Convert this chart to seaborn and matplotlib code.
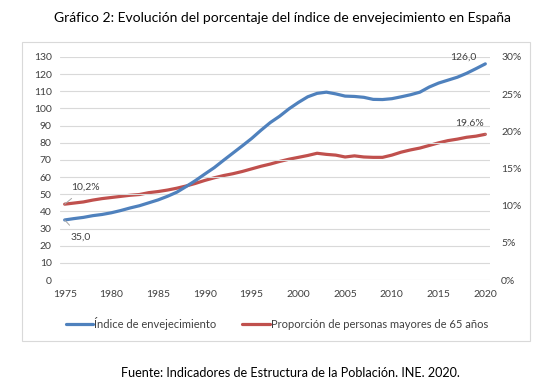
import numpy as np
import pandas as pd
import matplotlib
matplotlib.use("Agg")
import matplotlib.pyplot as plt
from matplotlib.patches import Rectangle
from matplotlib.ticker import FuncFormatter
import seaborn as sns

# --- data ---
years = list(range(1975, 2021))

indice_envejecimiento = [
    35.0, 35.8, 36.5, 37.5, 38.2, 39.2, 40.5, 42.0, 43.3, 45.0,
    46.7, 48.8, 51.2, 54.5, 58.0, 61.8, 65.5, 69.8, 74.0, 78.2,
    82.5, 87.3, 91.8, 95.5, 99.8, 103.5, 106.8, 108.8, 109.5, 108.5,
    107.2, 107.0, 106.5, 105.3, 105.2, 105.7, 106.8, 108.0, 109.5, 112.5,
    114.8, 116.5, 118.2, 120.5, 123.2, 126.0,
]

proporcion_65 = [
    10.2, 10.35, 10.5, 10.75, 10.95, 11.1, 11.25, 11.4, 11.5, 11.75,
    11.9, 12.1, 12.35, 12.65, 13.0, 13.4, 13.75, 14.05, 14.3, 14.6,
    14.95, 15.3, 15.6, 15.95, 16.25, 16.5, 16.75, 17.05, 16.9, 16.8,
    16.55, 16.7, 16.55, 16.5, 16.5, 16.8, 17.2, 17.5, 17.75, 18.1,
    18.45, 18.75, 18.95, 19.2, 19.35, 19.6,
]

left_ticks = list(range(0, 131, 10))
right_ticks = [0, 5, 10, 15, 20, 25, 30]
x_ticks = list(range(1975, 2021, 5))

title = "Gráfico 2: Evolución del porcentaje del índice de envejecimiento en España"
source = "Fuente: Indicadores de Estructura de la Población. INE. 2020."
label_blue = "Índice de envejecimiento"
label_red = "Proporción de personas mayores de 65 años"

BLUE = "#4F81BD"
RED = "#C0504D"
GRID = "#D9D9D9"
TEXT = "#404040"

df = pd.DataFrame({
    "year": years,
    "indice": indice_envejecimiento,
    "prop": proporcion_65,
})

sns.set_theme(style="white")
plt.rcParams["font.family"] = ["Lato", "DejaVu Sans"]

fig = plt.figure(figsize=(5.54, 3.83), dpi=100)
ax = fig.add_axes([60 / 554, 1 - 280 / 383, 430 / 554, 223 / 383])
ax2 = ax.twinx()

# chart frame
fig.patches.append(Rectangle((22 / 554, 1 - 341 / 383), 508 / 554, 299 / 383,
                             transform=fig.transFigure, fill=False,
                             edgecolor=GRID, linewidth=0.8))

sns.lineplot(data=df, x="year", y="indice", ax=ax, color=BLUE, linewidth=2.3,
             label=label_blue, legend=False)
sns.lineplot(data=df, x="year", y="prop", ax=ax2, color=RED, linewidth=2.3,
             label=label_red, legend=False)

ax.set_xlim(1974.5, 2020.5)
ax.set_ylim(0, 130)
ax2.set_ylim(0, 30)
ax.set_yticks(left_ticks)
ax2.set_yticks(right_ticks)
ax.set_xticks(x_ticks)
ax2.yaxis.set_major_formatter(FuncFormatter(lambda v, p: f"{int(v)}%"))

ax.grid(axis="y", color=GRID, linewidth=0.8)
ax.set_axisbelow(True)
ax2.grid(False)
for a in (ax, ax2):
    for s in a.spines.values():
        s.set_visible(False)
    a.set_xlabel("")
    a.set_ylabel("")
    a.tick_params(length=0, labelsize=7.5, labelcolor=TEXT, pad=6)
ax.tick_params(axis="x", pad=7)
ax2.tick_params(axis="y", pad=8)
ax.set_zorder(ax2.get_zorder() + 1)
ax.patch.set_visible(False)

# data labels with leader lines
i0, i1 = 0, len(years) - 1
ax.annotate(f"{indice_envejecimiento[i0]:.1f}".replace(".", ","),
            xy=(years[i0], indice_envejecimiento[i0]), xytext=(years[i0] + 1.7, 25.0),
            fontsize=7.5, color=TEXT, ha="center", va="center",
            arrowprops=dict(arrowstyle="-", color="#A6A6A6", lw=0.7, shrinkB=0, shrinkA=4))
ax.annotate(f"{indice_envejecimiento[i1]:.1f}".replace(".", ","),
            xy=(years[i1], indice_envejecimiento[i1]), xytext=(years[i1] - 2.4, 130),
            fontsize=7.5, color=TEXT, ha="center", va="center")
ax2.annotate(f"{proporcion_65[i0]:.1f}%".replace(".", ","),
             xy=(years[i0], proporcion_65[i0]), xytext=(years[i0] + 2.2, 12.5),
             fontsize=7.5, color=TEXT, ha="center", va="center",
             arrowprops=dict(arrowstyle="-", color="#A6A6A6", lw=0.7, shrinkB=0, shrinkA=4))
ax2.annotate(f"{proporcion_65[i1]:.1f}%".replace(".", ","),
             xy=(years[i1], proporcion_65[i1]), xytext=(years[i1] - 1.7, 21.1),
             fontsize=7.5, color=TEXT, ha="center", va="center",
             arrowprops=dict(arrowstyle="-", color="#A6A6A6", lw=0.7, shrinkB=0, shrinkA=4))

# legend
h1, l1 = ax.get_legend_handles_labels()
h2, l2 = ax2.get_legend_handles_labels()
fig.legend(h1 + h2, l1 + l2, loc="center", bbox_to_anchor=(277 / 554, 1 - 323 / 383),
           ncol=2, frameon=False, fontsize=8, handlelength=2.5, handletextpad=0.1,
           columnspacing=2.3, labelcolor=TEXT)

fig.text(282 / 554, 1 - 18 / 383, title, ha="center", va="center", fontsize=10, color="black")
fig.text(290 / 554, 1 - 373 / 383, source, ha="center", va="center", fontsize=9.1, color="black")

fig.savefig("out.png", dpi=100)
